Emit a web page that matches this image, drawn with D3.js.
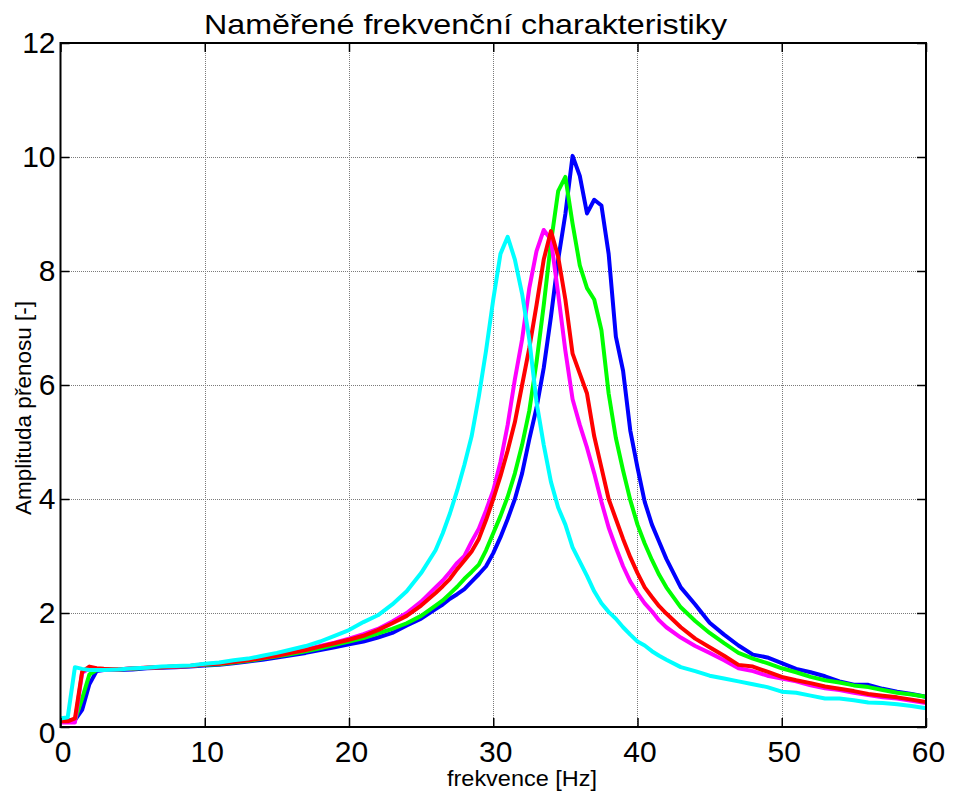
<!DOCTYPE html>
<html>
<head>
<meta charset="utf-8">
<script src="https://cdn.jsdelivr.net/npm/d3@7"></script>
<style>
  html, body { margin: 0; padding: 0; background: #fff; }
  svg { display: block; font-family: "Liberation Sans", Arial, Helvetica, sans-serif; }
</style>
</head>
<body>
<svg id="chart" width="956" height="796"></svg>
<script>
// Frequency grid [Hz] shared by all measured series
const freq = [0, 0.5, 1, 1.5, 2, 2.5, 3,
  4, 5, 6, 7, 8, 9, 10, 11, 12, 13, 14, 15, 16, 17, 18, 19, 20, 21, 22, 23, 24, 25, 26,
  26.5, 27, 27.5, 28, 28.5, 29, 29.5, 30, 30.5, 31, 31.5, 32, 32.5, 33, 33.5, 34, 34.5, 35,
  35.5, 36, 36.5, 37, 37.5, 38, 38.5, 39, 39.5, 40, 40.5, 41, 41.5, 42,
  43, 44, 45, 46, 47, 48, 49, 50, 51, 52, 53, 54, 55, 56, 57, 58, 59, 60];

// Measured transfer amplitudes, one array per series
const blue = [0.12, 0.12, 0.12, 0.3, 0.75, 0.98, 1.0,
  1.0, 1.01, 1.03, 1.04, 1.05, 1.06, 1.08, 1.09, 1.12, 1.15, 1.18, 1.22, 1.26, 1.3, 1.35, 1.4, 1.45, 1.5, 1.57, 1.65, 1.78, 1.9, 2.07,
  2.15, 2.25, 2.33, 2.42, 2.55, 2.68, 2.82, 3.05, 3.33, 3.65, 4.0, 4.45, 5.05, 5.6, 6.3, 7.2, 8.2, 9.0,
  10.02, 9.67, 9.01, 9.25, 9.15, 8.3, 6.85, 6.25, 5.2, 4.55, 3.95, 3.55, 3.25, 2.95,
  2.45, 2.15, 1.83, 1.62, 1.43, 1.27, 1.22, 1.12, 1.02, 0.96, 0.89, 0.8, 0.74, 0.74, 0.67, 0.62, 0.58, 0.53];

const green = [0.1, 0.1, 0.12, 0.5, 0.92, 1.0, 1.0,
  1.01, 1.02, 1.04, 1.05, 1.06, 1.07, 1.09, 1.1, 1.13, 1.16, 1.2, 1.24, 1.28, 1.33, 1.38, 1.44, 1.5, 1.56, 1.64, 1.72, 1.82, 1.95, 2.13,
  2.22, 2.34, 2.46, 2.6, 2.72, 2.85, 3.1, 3.4, 3.7, 4.04, 4.45, 4.95, 5.55, 6.4, 7.4, 8.5, 9.4, 9.65,
  8.83, 8.1, 7.7, 7.5, 6.96, 5.85, 5.07, 4.5, 3.98, 3.55, 3.22, 2.93, 2.67, 2.45,
  2.1, 1.86, 1.65, 1.47, 1.3, 1.2, 1.12, 1.03, 0.96, 0.88, 0.82, 0.78, 0.73, 0.7, 0.65, 0.6, 0.57, 0.53];

const magenta = [0.08, 0.08, 0.08, 0.95, 1.03, 1.02, 1.0,
  1.01, 1.03, 1.04, 1.05, 1.06, 1.07, 1.1, 1.12, 1.15, 1.18, 1.22, 1.26, 1.31, 1.36, 1.42, 1.48, 1.55, 1.63, 1.72, 1.85, 2.0, 2.2, 2.45,
  2.57, 2.72, 2.88, 3.0, 3.25, 3.48, 3.8, 4.15, 4.65, 5.3, 6.1, 6.8, 7.7, 8.35, 8.72, 8.55, 7.6, 6.6,
  5.75, 5.3, 4.9, 4.45, 3.95, 3.5, 3.15, 2.82, 2.55, 2.35, 2.17, 2.03, 1.87, 1.75,
  1.57, 1.42, 1.3, 1.17, 1.03, 0.98, 0.9, 0.85, 0.8, 0.73, 0.68, 0.65, 0.6, 0.56, 0.52, 0.5, 0.46, 0.42];

const red = [0.1, 0.1, 0.15, 0.97, 1.06, 1.03, 1.02,
  1.01, 1.03, 1.04, 1.05, 1.06, 1.07, 1.1, 1.11, 1.14, 1.17, 1.21, 1.25, 1.3, 1.35, 1.41, 1.47, 1.53, 1.6, 1.7, 1.82, 1.95, 2.13, 2.35,
  2.47, 2.6, 2.77, 2.92, 3.08, 3.3, 3.63, 4.0, 4.4, 4.85, 5.35, 6.0, 6.65, 7.4, 8.2, 8.7, 8.25, 7.5,
  6.55, 6.2, 5.85, 5.1, 4.55, 4.0, 3.65, 3.3, 2.98, 2.7, 2.45, 2.28, 2.12, 1.99,
  1.75, 1.55, 1.4, 1.25, 1.09, 1.06, 0.97, 0.88, 0.82, 0.77, 0.71, 0.67, 0.63, 0.58, 0.55, 0.52, 0.48, 0.44];

const cyan = [0.15, 0.17, 1.05, 1.02, 1.0, 1.0, 1.0,
  1.01, 1.03, 1.04, 1.06, 1.07, 1.08, 1.11, 1.13, 1.17, 1.2, 1.25, 1.3, 1.36, 1.42, 1.5, 1.6, 1.7, 1.84, 1.96, 2.15, 2.38, 2.7, 3.1,
  3.4, 3.75, 4.15, 4.6, 5.1, 5.8, 6.6, 7.5, 8.3, 8.6, 8.2, 7.6, 6.8, 5.7, 4.95, 4.3, 3.85, 3.55,
  3.15, 2.9, 2.65, 2.38, 2.17, 2.02, 1.9, 1.75, 1.62, 1.5, 1.43, 1.33, 1.25, 1.18,
  1.05, 0.98, 0.9, 0.85, 0.8, 0.75, 0.7, 0.62, 0.6, 0.55, 0.5, 0.5, 0.47, 0.43, 0.42, 0.4, 0.37, 0.33];

// Draw order and colours of the series
const seriesList = [
  { values: blue, color: "#0000ff" },
  { values: green, color: "#00ff00" },
  { values: magenta, color: "#ff00ff" },
  { values: red, color: "#ff0000" },
  { values: cyan, color: "#00ffff" }
];

const xTicks = [0, 10, 20, 30, 40, 50, 60];
const yTicks = [0, 2, 4, 6, 8, 10, 12];

const titleText = "Naměřené frekvenční charakteristiky";
const xLabelText = "frekvence [Hz]";
const yLabelText = "Amplituda přenosu [-]";

const svg = d3.select("#chart");
const plot = { left: 60.5, right: 926, top: 43, bottom: 727 };

const x = d3.scaleLinear().domain([0, 60]).range([plot.left, plot.right]);
const y = d3.scaleLinear().domain([0, 12]).range([plot.bottom, plot.top]);

// Dotted grid, snapped to whole pixels so the dots stay sharp
const snap = v => Math.round(v) + 0.5;
const grid = svg.append("g").attr("class", "grid").attr("shape-rendering", "crispEdges");
grid.selectAll("line.vx").data(xTicks.slice(1, -1)).join("line")
  .attr("x1", d => snap(x(d))).attr("x2", d => snap(x(d)))
  .attr("y1", plot.top).attr("y2", plot.bottom)
  .attr("stroke", "#7a7a7a").attr("stroke-width", 1).attr("stroke-dasharray", "1,1");
grid.selectAll("line.hy").data(yTicks.slice(1, -1)).join("line")
  .attr("x1", plot.left).attr("x2", plot.right)
  .attr("y1", d => snap(y(d))).attr("y2", d => snap(y(d)))
  .attr("stroke", "#7a7a7a").attr("stroke-width", 1).attr("stroke-dasharray", "1,1");

// Curves
const line = d3.line()
  .x((d, i) => x(freq[i]))
  .y(d => y(d));

const curves = svg.append("g").attr("class", "curves");
seriesList.forEach(s => {
  curves.append("path")
    .datum(s.values)
    .attr("d", line)
    .attr("fill", "none")
    .attr("stroke", s.color)
    .attr("stroke-width", 4)
    .attr("stroke-linejoin", "round")
    .attr("stroke-linecap", "butt");
});

// Axes with inward ticks on all four sides
const tickLen = 9;
const fontSize = 30;

const xAxisBottom = d3.axisBottom(x).tickValues(xTicks).tickSizeInner(-tickLen).tickSizeOuter(0).tickPadding(14).tickFormat(d3.format("d"));
const xAxisTop = d3.axisTop(x).tickValues(xTicks).tickSizeInner(-tickLen).tickSizeOuter(0).tickFormat("");
const yAxisLeft = d3.axisLeft(y).tickValues(yTicks).tickSizeInner(-tickLen).tickSizeOuter(0).tickPadding(5).tickFormat(d3.format("d"));
const yAxisRight = d3.axisRight(y).tickValues(yTicks).tickSizeInner(-tickLen).tickSizeOuter(0).tickFormat("");

function styleAxis(g) {
  g.select(".domain").remove();
  g.selectAll(".tick line").attr("stroke", "#000").attr("stroke-width", 1.5);
  g.selectAll(".tick text").attr("fill", "#000").attr("font-size", fontSize)
    .attr("font-family", "'Liberation Sans', Arial, sans-serif");
}

svg.append("g").attr("transform", `translate(0,${plot.bottom})`).call(xAxisBottom).call(styleAxis)
  .selectAll(".tick text").attr("dx", 2);
svg.append("g").attr("transform", `translate(0,${plot.top})`).call(xAxisTop).call(styleAxis);
svg.append("g").attr("transform", `translate(${plot.left},0)`).call(yAxisLeft).call(styleAxis)
  .selectAll(".tick text").filter(d => d === 0).attr("dy", "0.52em");
svg.append("g").attr("transform", `translate(${plot.right},0)`).call(yAxisRight).call(styleAxis);

// Box
svg.append("rect")
  .attr("x", plot.left).attr("y", plot.top)
  .attr("width", plot.right - plot.left).attr("height", plot.bottom - plot.top)
  .attr("fill", "none").attr("stroke", "#000").attr("stroke-width", 2);

// Title and axis labels
svg.append("text")
  .attr("x", 465.5).attr("y", 34)
  .attr("text-anchor", "middle")
  .attr("font-size", 28)
  .attr("textLength", 523)
  .attr("lengthAdjust", "spacingAndGlyphs")
  .attr("fill", "#000")
  .text(titleText);

svg.append("text")
  .attr("x", 522).attr("y", 786)
  .attr("text-anchor", "middle")
  .attr("font-size", 22)
  .attr("textLength", 150)
  .attr("lengthAdjust", "spacingAndGlyphs")
  .attr("fill", "#000")
  .text(xLabelText);

svg.append("text")
  .attr("transform", "translate(31,408) rotate(-90)")
  .attr("text-anchor", "middle")
  .attr("font-size", 22)
  .attr("textLength", 214)
  .attr("lengthAdjust", "spacingAndGlyphs")
  .attr("fill", "#000")
  .text(yLabelText);
</script>
</body>
</html>
